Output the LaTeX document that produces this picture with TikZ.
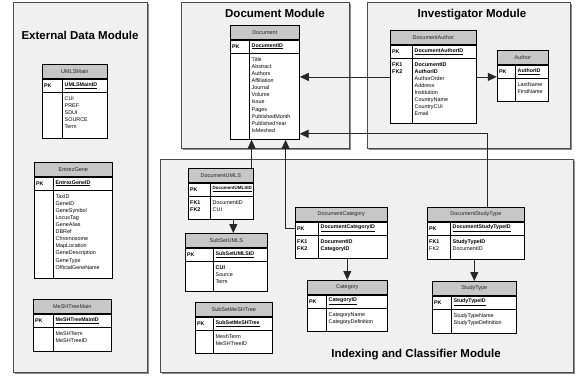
\documentclass[tikz,border=0pt]{standalone}
\usepackage{fontspec}
\setmainfont{Liberation Sans}
\usepackage{tikz}
\usetikzlibrary{positioning,arrows.meta,fit,calc,shadows}

% one entity table: id, position, width, body height, divider, title, key, key labels, attributes
\newcommand{\ertable}[9]{%
  \node[erhead,minimum width=#3] (#1-h) at (#2) {#6};
  \node[errow,minimum width=#3,minimum height=13] (#1-k) at (#1-h.south west) {};
  \node[errow,minimum width=#3,minimum height=#4] (#1-b) at (#1-k.south west) {};
  \draw[erline] ($(#1-k.north west)+(#5,0)$) -- ($(#1-b.south west)+(#5,0)$);
  \node[erkey] (#1-pk) at ($(#1-k.west)+(2,0)$) {PK};
  \node[erkey] (#1-pkv) at ($(#1-k.west)+(#5+2.5,0)$) {\underline{#7}};
  \node[erlist] (#1-fk) at ($(#1-b.north west)+(2,4)$) {#8};
  \node[erlist] (#1-at) at ($(#1-b.north west)+(#5+2.5,4)$) {#9};
  \node[fit=(#1-h)(#1-b),inner sep=0pt] (#1) {};
}

\begin{document}
\begin{tikzpicture}[x=1pt,y=-1pt,
    module/.style={draw=black!70,line width=1pt,fill=black!6,anchor=north west,inner sep=0pt,
      drop shadow={shadow xshift=1pt,shadow yshift=-1pt,fill=black!45,opacity=1}},
    modtitle/.style={font=\fontsize{11.5}{13}\selectfont\bfseries},
    erline/.style={draw=black,line width=0.6pt},
    erhead/.style={erline,fill=black!22,anchor=north west,minimum height=14,inner sep=0pt,
      font=\fontsize{5.5}{6}\selectfont,text=black!85},
    errow/.style={erline,fill=white,anchor=north west,inner sep=0pt},
    erkey/.style={anchor=west,inner sep=0pt,font=\fontsize{5.3}{7}\selectfont\bfseries},
    erlist/.style={anchor=north west,inner sep=0pt,align=left,font=\fontsize{5.4}{7.1}\selectfont},
    fk/.style={draw=black!85,line width=0.8pt,-{Triangle[length=9pt,width=8pt]}}]
  \useasboundingbox[fill=white] (0,0) rectangle (577,376);

  % modules
  \node[module,minimum width=134,minimum height=370] (extmod) at (13,2) {};
  \node[module,minimum width=168,minimum height=146] (docmod) at (181,2) {};
  \node[module,minimum width=203,minimum height=146] (invmod) at (367,2) {};
  \node[module,minimum width=413,minimum height=213] (idxmod) at (160,159) {};
  \node[modtitle] (exttitle) at (80,35) {External Data Module};
  \node[modtitle] (doctitle) at (275,13) {Document Module};
  \node[modtitle] (invtitle) at (472,15) {Investigator Module};
  \node[modtitle] (idxtitle) at (416,355) {Indexing and Classifier Module};

  % external data
  \ertable{um}{42,64}{65}{46}{20}{UMLSMain}{UMLSMainID}{}{CUI\\PREF\\SDUI\\SOURCE\\Term}
  \ertable{eg}{34,162}{78}{88}{19}{EntrezGene}{EntrezGeneID}{}{TaxID\\GeneID\\GeneSymbol\\LocusTag\\GeneAlias\\DBRef\\Chromosome\\MapLocation\\GeneDescription\\GeneType\\OfficialGeneName}
  \ertable{mt}{33,299}{78}{24}{20}{MeSHTreeMain}{MeSHTreeMainID}{}{MeSHTerm\\MeSHTreeID}

  % document and investigator
  \ertable{doc}{230,25}{69}{86}{19}{Document}{DocumentID}{}{Title\\Abstract\\Authors\\Affiliation\\Journal\\Volume\\Issue\\Pages\\PublishedMonth\\PublishedYear\\IsMeshed}
  \ertable{da}{390,30}{86}{65}{22}{DocumentAuthor}{DocumentAuthorID}{\textbf{FK1}\\\textbf{FK2}}{\textbf{DocumentID}\\\textbf{AuthorID}\\AuthorOrder\\Address\\Institution\\CountryName\\CountryCUI\\Email}
  \ertable{au}{497,50}{51}{23}{18}{Author}{AuthorID}{}{LastName\\FirstName}

  % indexing and classifier
  \ertable{du}{188,168}{65}{23}{22}{DocumentUMLS}{\fontsize{4.5}{7}\selectfont DocumentUMLSID}{\textbf{FK1}\\\textbf{FK2}}{DocumentID\\CUI}
  \ertable{su}{185,233}{82}{30}{28}{SubSetUMLS}{SubSetUMLSID}{}{\textbf{CUI}\\Source\\Term}
  \ertable{sm}{195,302}{77}{23}{18}{SubSetMeSHTree}{SubSetMeSHTree}{}{MeshTerm\\MeSHTreeID}
  \ertable{dc}{295,207}{92}{23}{23}{DocumentCategory}{DocumentCategoryID}{\textbf{FK1}\\\textbf{FK2}}{\textbf{DocumentID}\\\textbf{CategoryID}}
  \ertable{ca}{307,280}{80}{23}{19}{Category}{CategoryID}{}{CategoryName\\CategoryDefinition}
  \ertable{dst}{427,207}{97}{24}{23}{DocumentStudyType}{DocumentStudyTypeID}{\textbf{FK1}\\FK2}{\textbf{StudyTypeID}\\DocumentID}
  \ertable{st}{432,281}{84}{24}{19}{StudyType}{StudyTypeID}{}{StudyTypeName\\StudyTypeDefinition}

  % connectors
  \coordinate (du-up) at ($(du-h.north east)+(-2,0)$);
  \coordinate (dc-up) at ($(doc-b.south east)+(-14,0)$);
  \coordinate (dst-up) at ($(dst-h.north)+(11.5,0)$);
  \coordinate (doc-in) at ($(doc-b.south east)+(0,-6)$);
  \coordinate (du-dn) at ($(du-b.south)+(12.5,0)$);
  \draw[fk] (da.west) -- (da.west -| doc.east);
  \draw[fk] (da.east) -- (da.east -| au.west);
  \draw[fk] (dst-up) |- (doc-in);
  \draw[fk] (du-up) -- (du-up |- doc-b.south);
  \draw[fk] (dc-k.west) -| (dc-up);
  \draw[fk] (du-dn) -- (du-dn |- su-h.north);
  \draw[fk] (ca-h.north |- dc-b.south) -- (ca-h.north);
  \draw[fk] (st-h.north |- dst-b.south) -- (st-h.north);
\end{tikzpicture}
\end{document}
